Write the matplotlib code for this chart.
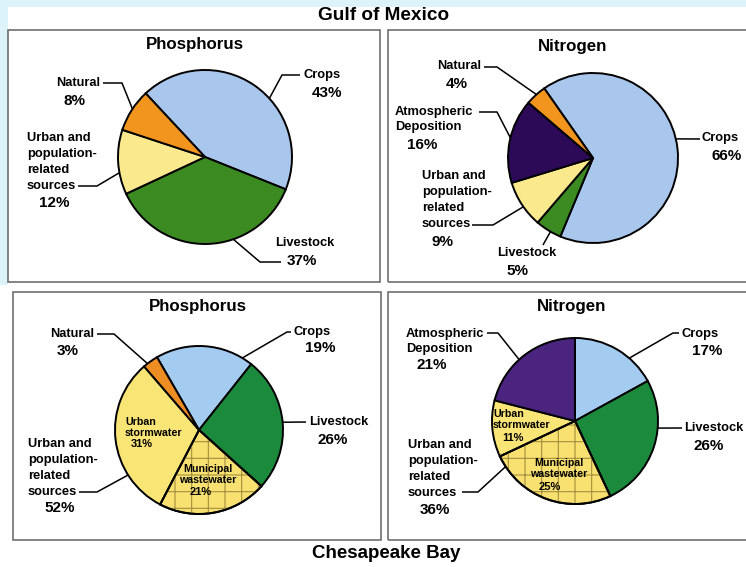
import matplotlib.pyplot as plt
import matplotlib.patches as mpatches
import numpy as np

plt.rcParams['font.family'] = ['Liberation Sans', 'DejaVu Sans']
plt.rcParams['font.weight'] = 'bold'
plt.rcParams['hatch.linewidth'] = 0.8

# Data: shares of nutrient sources (%).
urban_group = 'Urban and\npopulation-\nrelated\nsources'

gulf_p_labels = ['Crops', 'Livestock', urban_group, 'Natural']
gulf_p_values = [43, 37, 12, 8]

gulf_n_labels = ['Crops', 'Livestock', urban_group, 'Atmospheric\nDeposition', 'Natural']
gulf_n_values = [66, 5, 9, 16, 4]

ches_p_labels = ['Crops', 'Livestock', 'Municipal\nwastewater', 'Urban\nstormwater', 'Natural']
ches_p_values = [19, 26, 21, 31, 3]

ches_n_labels = ['Crops', 'Livestock', 'Municipal\nwastewater', 'Urban\nstormwater', 'Atmospheric\nDeposition']
ches_n_values = [17, 26, 25, 11, 21]

# Colours per source.
top_colors = {'Crops': '#a9c7ed', 'Livestock': '#3b8b22', urban_group: '#fbe98e',
              'Natural': '#f2951f', 'Atmospheric\nDeposition': '#2c0a58'}
bot_colors = {'Crops': '#a4cbf0', 'Livestock': '#1c8a3d', 'Municipal\nwastewater': '#f8e171',
              'Urban\nstormwater': '#f9e476', 'Natural': '#ef8d25',
              'Atmospheric\nDeposition': '#4b2480'}

W, H = 746, 567

fig = plt.figure(figsize=(W / 100, H / 100), dpi=100)
ax = fig.add_axes([0, 0, 1, 1])


def Y(y):
    # pixel row (top-down) -> data y
    return H - y


# Light cyan strips along the top and left edge.
ax.add_patch(mpatches.Rectangle((0, Y(7)), W, 7, facecolor='#dcf3f9', lw=0))
ax.add_patch(mpatches.Rectangle((0, Y(285)), 8, 285, facecolor='#dcf3f9', lw=0))

# Panel frames.
for x0, y0, x1, y1 in [(8, 30, 380, 282), (388, 30, 752, 282),
                       (13, 292, 381, 540), (388, 292, 752, 540)]:
    ax.add_patch(mpatches.Rectangle((x0, Y(y1)), x1 - x0, y1 - y0,
                                    facecolor='none', edgecolor='#707070', lw=1.2))

ax.text(384, Y(16), 'Gulf of Mexico', ha='center', va='center', fontsize=13.7)
ax.text(386, Y(553), 'Chesapeake Bay', ha='center', va='center', fontsize=13.5)


def draw_pie(labels, values, colors, cx, cy, r, start, title, title_xy):
    wedges, _ = ax.pie(values, colors=[colors[l] for l in labels], center=(cx, Y(cy)),
                       radius=r, startangle=start, counterclock=False,
                       wedgeprops=dict(edgecolor='black', linewidth=1.4))
    ax.text(title_xy[0], Y(title_xy[1]), title, ha='center', va='center', fontsize=12.2)
    for lab, w in zip(labels, wedges):
        if lab.startswith('Municipal'):
            ax.add_patch(mpatches.Wedge((cx, Y(cy)), r, w.theta1, w.theta2,
                                        facecolor='none', edgecolor='#a38f3e',
                                        lw=0, hatch='+'))
            ax.add_patch(mpatches.Wedge((cx, Y(cy)), r, w.theta1, w.theta2,
                                        facecolor='none', edgecolor='black', lw=1.4))
    return dict(zip(labels, values))


def callout(geom, text, pct, tx, ty, ha, pct_xy, leader, angle, pitch=16,
            size=9.3, psize=11):
    cx, cy, r = geom
    for i, line in enumerate(text.split('\n')):
        ax.text(tx, Y(ty + i * pitch), line, ha=ha, va='center', fontsize=size)
    ax.text(pct_xy[0], Y(pct_xy[1]), f'{pct}%', ha='center', va='center', fontsize=psize)
    if leader is not None:
        a = np.deg2rad(angle)
        xs = [p[0] for p in leader] + [cx + r * np.cos(a)]
        ys = [Y(p[1]) for p in leader] + [Y(cy) + r * np.sin(a)]
        ax.plot(xs, ys, color='black', lw=1.1, solid_capstyle='butt')


# ---- Gulf of Mexico, phosphorus
g = (205, 157, 87)
v = draw_pie(gulf_p_labels, gulf_p_values, top_colors, *g, 133, 'Phosphorus', (195, 45))
callout(g, 'Natural', v['Natural'], 100, 83, 'right', (75, 101), [(103, 83), (122, 83)], 146.5)
callout(g, 'Crops', v['Crops'], 303, 75, 'left', (327, 93), [(300, 75), (282, 75)], 42.3)
callout(g, urban_group, v[urban_group], 27, 138, 'left', (54, 203), [(78, 186), (97, 186)], 190.4)
callout(g, 'Livestock', v['Livestock'], 305, 243, 'center', (302, 261), [(281, 262), (260, 262)], -71)

# ---- Gulf of Mexico, nitrogen
g = (593, 158, 85)
v = draw_pie(gulf_n_labels, gulf_n_values, top_colors, *g, 125, 'Nitrogen', (573, 46))
callout(g, 'Natural', v['Natural'], 481, 66, 'right', (457, 84), [(484, 67), (497, 67)], 131.7)
callout(g, 'Atmospheric\nDeposition', v['Atmospheric\nDeposition'], 395, 112, 'left',
        (422, 145), [(479, 112), (497, 112)], 166.3, pitch=15)
callout(g, 'Crops', v['Crops'], 702, 138, 'left', (727, 156), [(700, 139)], 13)
callout(g, urban_group, v[urban_group], 422, 176, 'left', (442, 242), [(472, 225), (493, 225)], 215)
callout(g, 'Livestock', v['Livestock'], 527, 253, 'center', (517, 271), [(543, 245)], 240)

# ---- Chesapeake Bay, phosphorus
g = (199, 430, 84)
v = draw_pie(ches_p_labels, ches_p_values, bot_colors, *g, 120, 'Phosphorus', (198, 307))
urban_p = v['Municipal\nwastewater'] + v['Urban\nstormwater']
callout(g, 'Natural', v['Natural'], 94, 334, 'right', (68, 351), [(97, 334), (114, 334)], 127.8)
callout(g, 'Crops', v['Crops'], 293, 332, 'left', (320, 348), [(291, 332), (287, 332)], 59)
callout(g, 'Livestock', v['Livestock'], 309, 422, 'left', (333, 440), [(306, 422)], 5.3)
callout(g, urban_group, urban_p, 28, 444, 'left', (60, 508), [(79, 492), (97, 492)], 212.4)
callout(g, 'Urban\nstormwater', v['Urban\nstormwater'], 125, 422, 'left', (142, 444), None, 0,
        pitch=11, size=7.7, psize=8)
callout(g, 'Municipal\nwastewater', v['Municipal\nwastewater'], 208, 469, 'center', (201, 492),
        None, 0, pitch=11, size=7.7, psize=8)

# ---- Chesapeake Bay, nitrogen
g = (575, 421, 83)
v = draw_pie(ches_n_labels, ches_n_values, bot_colors, *g, 90, 'Nitrogen', (572, 307))
urban_n = v['Municipal\nwastewater'] + v['Urban\nstormwater']
callout(g, 'Atmospheric\nDeposition', v['Atmospheric\nDeposition'], 406, 334, 'left',
        (432, 365), [(487, 333), (498, 333)], 132.3, pitch=15)
callout(g, 'Crops', v['Crops'], 681, 334, 'left', (707, 351), [(679, 333), (673, 333)], 49.2)
callout(g, 'Livestock', v['Livestock'], 684, 428, 'left', (709, 446), [(682, 428)], -4.9)
callout(g, urban_group, urban_n, 408, 445, 'left', (435, 510), [(462, 492), (478, 492)], 213.3)
callout(g, 'Urban\nstormwater', v['Urban\nstormwater'], 493, 414, 'left', (513, 438), None, 0,
        pitch=11, size=7.7, psize=8)
callout(g, 'Municipal\nwastewater', v['Municipal\nwastewater'], 559, 463, 'center', (550, 487),
        None, 0, pitch=11, size=7.7, psize=8)

ax.set_xlim(0, W)
ax.set_ylim(0, H)
ax.set_aspect('auto')
ax.axis('off')

fig.savefig('out.png', dpi=100)
plt.close(fig)
